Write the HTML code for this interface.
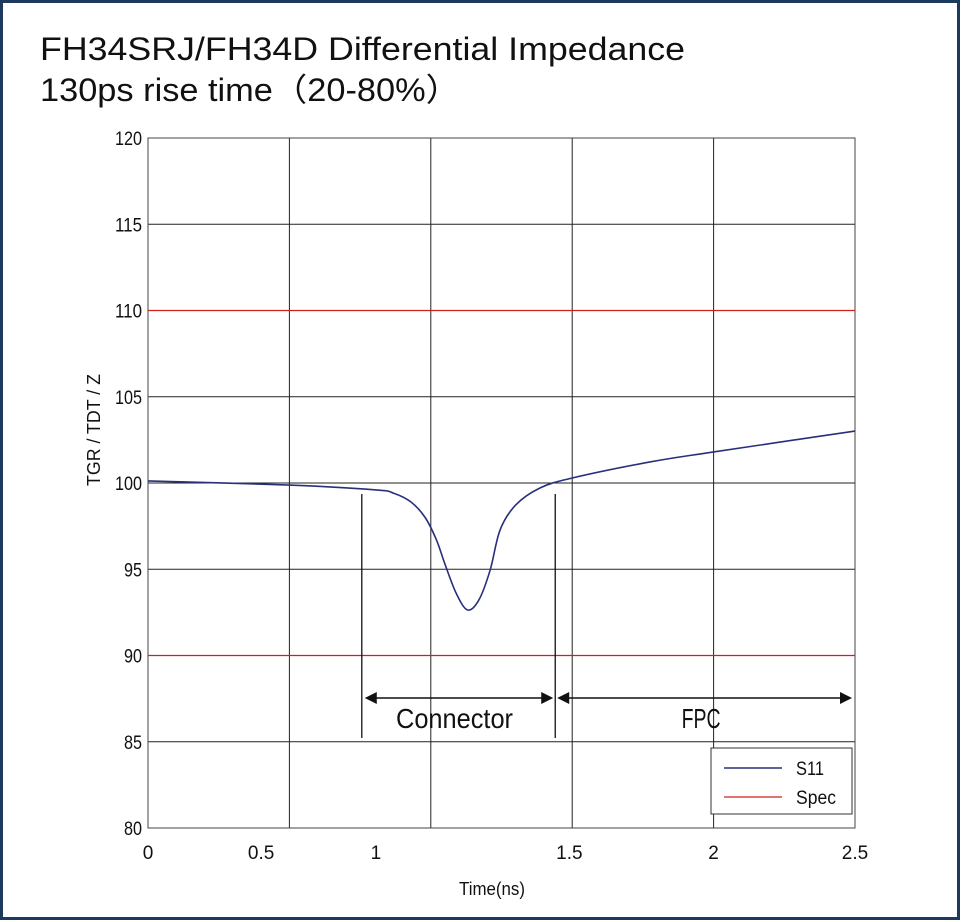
<!DOCTYPE html>
<html><head><meta charset="utf-8"><style>
html,body{margin:0;padding:0;background:#fff}
svg{display:block;font-family:"Liberation Sans",sans-serif}
</style></head><body>
<svg width="962" height="922" viewBox="0 0 962 922">
<rect x="1.5" y="1.5" width="957" height="917" fill="#fff" stroke="#1d3a5c" stroke-width="3"/>
<text x="40" y="60" font-size="32" fill="#111" textLength="645" lengthAdjust="spacingAndGlyphs">FH34SRJ/FH34D Differential Impedance</text>
<text x="40" y="101" font-size="32" fill="#111" textLength="420" lengthAdjust="spacingAndGlyphs">130ps rise time（20-80%）</text>
<g id="plot"></g>
</svg>
<script>
const xGridTicks=[0,0.5,1,1.5,2,2.5];
const xTickLabels=["0","0.5","1","1.5","2","2.5"];
const xLabelPos=[0,0.4,0.806,1.49,2,2.5];
const yTicks=[80,85,90,95,100,105,110,115,120];
const specValues=[110,90];
const s11Time=[0,0.5,0.806,0.87,0.93,0.98,1.02,1.05,1.09,1.13,1.17,1.21,1.245,1.30,1.386,1.5,1.775,2.0,2.5];
const s11Z=[100.12,99.88,99.6,99.4,98.9,98.0,96.7,95.3,93.6,92.64,93.22,94.96,97.28,98.72,99.71,100.29,101.22,101.8,103.01];
const regionBounds=[0.756,1.44,2.5];
const regionNames=["Connector","FPC"];

const L=148,R=855,T=138,B=828;
const X=t=>L+(t/2.5)*(R-L);
const Y=v=>B-(v-80)/40*(B-T);
const NS="http://www.w3.org/2000/svg";
const g=document.getElementById('plot');
function mk(tag,attrs,parent){const e=document.createElementNS(NS,tag);for(const k in attrs)e.setAttribute(k,attrs[k]);(parent||g).appendChild(e);return e;}

yTicks.forEach(v=>{
  const l=mk('line',{x1:L,x2:R,y1:Y(v),y2:Y(v),stroke:'#222','stroke-width':1});
  
  
  const t=mk('text',{x:L-6,y:Y(v)+7,'text-anchor':'end','font-size':19,fill:'#111',textLength:String(v).length*9,lengthAdjust:'spacingAndGlyphs'});
  t.textContent=v;
  
  
});
xGridTicks.forEach((v,i)=>{
  const l=mk('line',{x1:X(v),x2:X(v),y1:T,y2:B,stroke:'#222','stroke-width':1});
  
  
  const t=mk('text',{x:X(xLabelPos[i]),y:B+31,'text-anchor':'middle','font-size':19,fill:'#111'});
  t.textContent=xTickLabels[i];
  
  
});
const ax=mk('rect',{x:L,y:T,width:R-L,height:B-T,fill:'none',stroke:'#444','stroke-width':1});



specValues.forEach(v=>{
  const l=mk('line',{x1:L,x2:R,y1:Y(v),y2:Y(v),stroke:'#d0201a','stroke-width':1.3});
  
  
});

let d='';
for(let i=0;i<s11Time.length;i++){
  const x=X(s11Time[i]),y=Y(s11Z[i]);
  if(i===0){d+=`M${x},${y}`;continue;}
  const x0=X(s11Time[Math.max(0,i-2)]),y0=Y(s11Z[Math.max(0,i-2)]);
  const xa=X(s11Time[i-1]),ya=Y(s11Z[i-1]);
  const xn=X(s11Time[Math.min(s11Time.length-1,i+1)]),yn=Y(s11Z[Math.min(s11Time.length-1,i+1)]);
  d+=` C${xa+(x-x0)/6},${ya+(y-y0)/6} ${x-(xn-xa)/6},${y-(yn-ya)/6} ${x},${y}`;
}
const p=mk('path',{d:d,fill:'none',stroke:'#28307a','stroke-width':1.6});



[regionBounds[0],regionBounds[1]].forEach(t=>{
  const l=mk('line',{x1:X(t),x2:X(t),y1:494,y2:738,stroke:'#111','stroke-width':1.3});
  
  
});
const ay=698;
function arrow(x1,x2,name){
  const gg=mk('g',{});
  
  
  mk('line',{x1:x1+4,x2:x2-4,y1:ay,y2:ay,stroke:'#111','stroke-width':1.5},gg);
  mk('polygon',{points:`${x1},${ay} ${x1+12},${ay-6} ${x1+12},${ay+6}`,fill:'#111'},gg);
  mk('polygon',{points:`${x2},${ay} ${x2-12},${ay-6} ${x2-12},${ay+6}`,fill:'#111'},gg);
}
arrow(X(regionBounds[0])+3,X(regionBounds[1])-2,'connector-arrow');
arrow(X(regionBounds[1])+2,X(regionBounds[2])-3,'fpc-arrow');
regionNames.forEach((n,i)=>{
  const t=mk('text',{x:(X(regionBounds[i])+X(regionBounds[i+1]))/2-4,y:728,'text-anchor':'middle','font-size':28,fill:'#111',textLength:n.length*13,lengthAdjust:'spacingAndGlyphs'});
  t.textContent=n;
  
  
});

const lg=mk('g',{});


mk('rect',{x:711,y:748,width:141,height:66,fill:'#fff',stroke:'#333','stroke-width':1},lg);
mk('line',{x1:724,x2:782,y1:768,y2:768,stroke:'#28307a','stroke-width':1.5},lg);
mk('line',{x1:724,x2:782,y1:797,y2:797,stroke:'#d0201a','stroke-width':1.3},lg);
const t1=mk('text',{x:796,y:775,'font-size':19,fill:'#111',textLength:28,lengthAdjust:'spacingAndGlyphs'},lg);t1.textContent='S11';


const t2=mk('text',{x:796,y:804,'font-size':19,fill:'#111',textLength:40,lengthAdjust:'spacingAndGlyphs'},lg);t2.textContent='Spec';



const xt=mk('text',{x:492,y:895,'text-anchor':'middle','font-size':18,fill:'#111',textLength:66,lengthAdjust:'spacingAndGlyphs'});
xt.textContent='Time(ns)';


const yt=mk('text',{x:0,y:0,'text-anchor':'middle','font-size':18,fill:'#111',transform:'translate(100,430) rotate(-90)',textLength:112,lengthAdjust:'spacingAndGlyphs'});
yt.textContent='TGR / TDT / Z';


</script>
</body></html>
